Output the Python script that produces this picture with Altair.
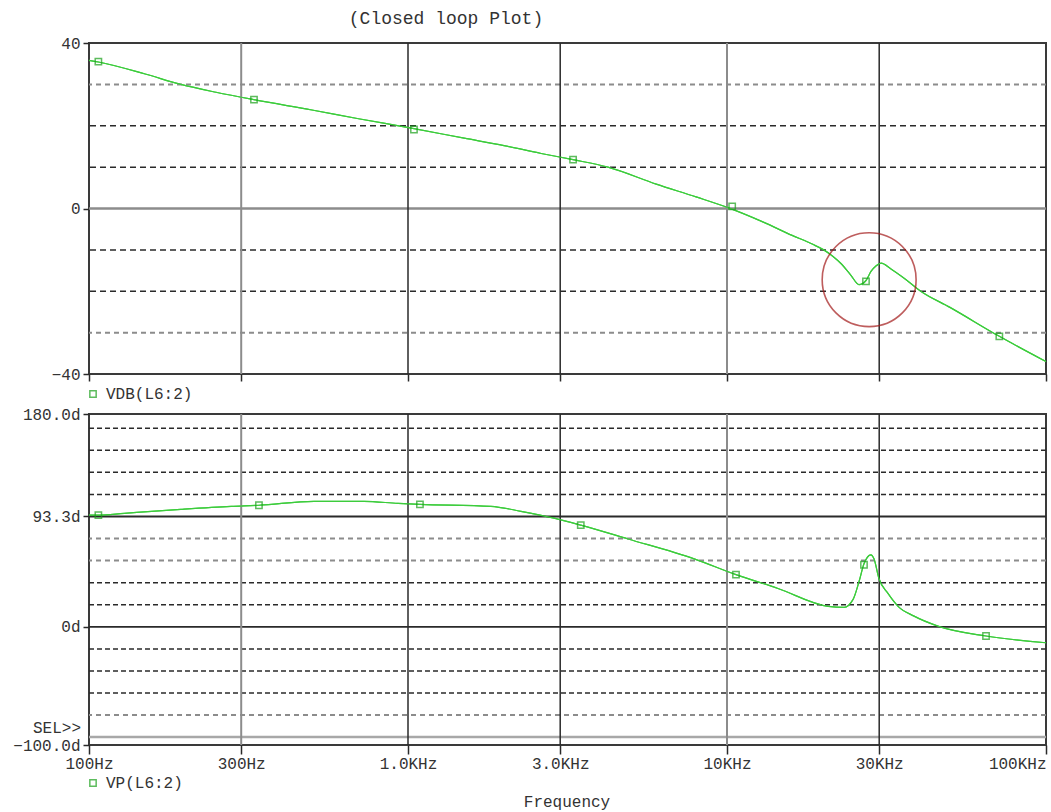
import altair as alt
import pandas as pd

# ---------------- data ----------------
title_text = "(Closed loop Plot)"

db_freq = [100, 107, 150, 194, 250, 329, 500, 700, 1044, 1500, 2000, 2615, 3292,
           4235, 6000, 8000, 10070, 13000, 16000, 18500, 20100, 21500, 22760, 24500,
           25930, 27270, 28270, 29300, 30400, 32660, 36000, 40490, 50000, 71400, 100000]
db_vals = [35.8, 35.4, 32.5, 30.0, 28.1, 26.3, 23.8, 21.7, 19.3, 17.0, 15.2, 13.3,
           11.8, 10.0, 5.9, 2.8, 0.2, -3.3, -6.5, -8.6, -10.0, -11.6, -13.3, -16.2,
           -18.4, -17.4, -15.2, -13.9, -13.2, -14.6, -16.9, -20.0, -23.9, -30.9, -37.0]
db_marker_freq = [107, 329, 1044, 3292, 10380, 27270, 71400]
db_marker_vals = [35.5, 26.3, 19.1, 11.8, 0.5, -17.6, -30.9]

ph_freq = [100, 107, 129, 194, 279, 341, 507, 728, 931, 1090, 1820, 2260, 2870,
           3480, 4896, 7890, 10670, 14450, 20760, 23290, 24850, 25940, 26880,
           28260, 28890, 29940, 31960, 34380, 38590, 45820, 64860, 100000]
ph_vals = [94.4, 94.4, 96.0, 99.4, 101.9, 102.8, 106.1, 106.1, 104.4, 103.6,
           101.9, 97.7, 91.9, 86.0, 74.3, 57.5, 44.1, 32.4, 17.3, 16.5, 23.2,
           38.3, 53.3, 60.9, 57.5, 40.8, 28.2, 17.3, 9.0, 0.6, -7.8, -13.5]
ph_marker_freq = [107, 341, 1090, 3480, 10670, 26880, 64860]
ph_marker_vals = [94.4, 102.8, 103.6, 86.0, 44.1, 52.5, -7.8]

x_tick_values = [100, 300, 1000, 3000, 10000, 30000, 100000]
x_tick_labels = ["100Hz", "300Hz", "1.0KHz", "3.0KHz", "10KHz", "30KHz", "100KHz"]
v_grid_gray = [300, 10000]
v_grid_dark = [1000, 3000, 30000]

db_tick_values = [40, 0, -40]
db_grid_dark = [20, 10, -10, -20]
db_grid_gray = [30, -30]
db_grid_solid = [0]

ph_tick_values = [180, 93.3, 0, -100]
ph_grid_dark = [168.0, 149.3, 130.7, 112.0, 37.3, 18.7, -18.7, -37.3, -56.0]
ph_grid_gray = [74.7, 56.0, -74.7]
ph_grid_solid_dark = [93.3, 0]
ph_grid_solid_gray = [-93.3]

circle_freq = [27900]
circle_db = [-17.2]

legend_db = ["VDB(L6:2)"]
legend_ph = ["VP(L6:2)"]
x_title = ["Frequency"]
sel_text = ["SEL>>"]

# ---------------- styling ----------------
FONT = "Liberation Mono"
FS = 16
W, H = 957, 331
LINE_C = "#3ccc3c"
MARK_C = "#1aa01a"
DARK = "#2a2a2a"
GRAY = "#8c8c8c"

xscale = alt.Scale(type="log", domain=[100, 100000], nice=False)
db_scale = alt.Scale(domain=[-40, 40], nice=False, zero=False)
ph_scale = alt.Scale(domain=[-100, 180], nice=False, zero=False)

label_expr = " : ".join(
    f"datum.value == {v} ? '{l}'" for v, l in zip(x_tick_values, x_tick_labels)
) + " : ''"

top_axis_x = alt.Axis(values=x_tick_values, labels=False, ticks=True, tickSize=7,
                      tickColor=DARK, tickWidth=1.5, domain=False, grid=False,
                      title=None)
top_axis_y = alt.Axis(values=db_tick_values, labelFont=FONT, labelFontSize=FS,
                      labelColor="#333", tickSize=6, tickColor=DARK, tickWidth=1.5,
                      domain=False, grid=False, title=None, labelPadding=3)
bot_axis_x = alt.Axis(values=x_tick_values, labelExpr=label_expr, labelFont=FONT,
                      labelFontSize=FS, labelColor="#333", tickSize=9,
                      tickColor=DARK, tickWidth=1.5, domain=False, grid=False,
                      title=None, labelPadding=1, labelFlush=False,
                      labelAlign={"condition": {"test": "datum.value >= 100000",
                                                "value": "right"},
                                  "value": "center"})
bot_axis_y = alt.Axis(values=ph_tick_values,
                      labelExpr="datum.value == 0 ? '0d' : format(datum.value, '.1f') + 'd'",
                      labelFont=FONT, labelFontSize=FS, labelColor="#333",
                      tickSize=6, tickColor=DARK, tickWidth=1.5, domain=False,
                      grid=False, title=None, labelPadding=3)


def df(col, vals):
    return pd.DataFrame({col: vals})


def vrules(vals, color, width, xaxis):
    return alt.Chart(df("f", vals)).mark_rule(color=color, strokeWidth=width).encode(
        x=alt.X("f:Q", scale=xscale, axis=xaxis))


def hrules(vals, scale, color, width, yaxis, dash=None):
    kw = dict(color=color, strokeWidth=width)
    if dash:
        kw["strokeDash"] = dash
    return alt.Chart(df("v", vals)).mark_rule(**kw).encode(
        y=alt.Y("v:Q", scale=scale, axis=yaxis))


def text_layer(vals, x, y, align="left", size=FS):
    return alt.Chart(df("t", vals)).mark_text(
        font=FONT, fontSize=size, color="#333", align=align, baseline="middle",
        clip=False).encode(x=alt.value(x), y=alt.value(y), text="t:N")


def legend_square(y):
    return alt.Chart(df("t", ["s"])).mark_point(
        shape="square", filled=False, color=MARK_C, size=40, strokeWidth=1.5
    ).encode(x=alt.value(4), y=alt.value(y))


# ---------------- top panel (VDB) ----------------
db_df = pd.DataFrame({"f": db_freq, "v": db_vals})
db_line = alt.Chart(db_df).mark_line(color=LINE_C, strokeWidth=1.2,
                                     interpolate="monotone").encode(
    x=alt.X("f:Q", scale=xscale, axis=top_axis_x),
    y=alt.Y("v:Q", scale=db_scale, axis=top_axis_y))
db_marks = alt.Chart(pd.DataFrame({"f": db_marker_freq, "v": db_marker_vals})).mark_point(
    shape="square", filled=False, color=MARK_C, size=40, strokeWidth=1.5).encode(
    x=alt.X("f:Q", scale=xscale, axis=top_axis_x),
    y=alt.Y("v:Q", scale=db_scale, axis=top_axis_y))
circle = alt.Chart(pd.DataFrame({"f": circle_freq, "v": circle_db})).mark_point(
    shape="circle", filled=False, color="#a31919", size=8820, strokeWidth=1.6).encode(
    x=alt.X("f:Q", scale=xscale, axis=top_axis_x),
    y=alt.Y("v:Q", scale=db_scale, axis=top_axis_y))
anchor = alt.Chart(df("t", ["a"])).mark_rule(opacity=0, strokeWidth=0.1).encode(
    x=alt.value(-88), x2=alt.value(-87), y=alt.value(-42), y2=alt.value(-41))

top = alt.layer(
    db_line,
    hrules(db_grid_gray, db_scale, GRAY, 2, top_axis_y, [5, 4]),
    hrules(db_grid_dark, db_scale, DARK, 1.5, top_axis_y, [6, 4]),
    hrules(db_grid_solid, db_scale, GRAY, 2.5, top_axis_y),
    vrules(v_grid_gray, GRAY, 2, top_axis_x),
    vrules(v_grid_dark, DARK, 1.5, top_axis_x),
    db_line,
    db_marks,
    circle,
    anchor,
    text_layer([title_text], 357, -24, align="center", size=18),
    legend_square(351),
    text_layer(legend_db, 17, 351),
).properties(width=W, height=H)

# ---------------- bottom panel (VP) ----------------
ph_df = pd.DataFrame({"f": ph_freq, "v": ph_vals})
ph_line = alt.Chart(ph_df).mark_line(color=LINE_C, strokeWidth=1.2,
                                     interpolate="monotone").encode(
    x=alt.X("f:Q", scale=xscale, axis=bot_axis_x),
    y=alt.Y("v:Q", scale=ph_scale, axis=bot_axis_y))
ph_marks = alt.Chart(pd.DataFrame({"f": ph_marker_freq, "v": ph_marker_vals})).mark_point(
    shape="square", filled=False, color=MARK_C, size=40, strokeWidth=1.5).encode(
    x=alt.X("f:Q", scale=xscale, axis=bot_axis_x),
    y=alt.Y("v:Q", scale=ph_scale, axis=bot_axis_y))

bottom = alt.layer(
    ph_line,
    hrules(ph_grid_gray, ph_scale, GRAY, 2, bot_axis_y, [5, 4]),
    hrules(ph_grid_dark, ph_scale, DARK, 1.5, bot_axis_y, [5, 3]),
    hrules(ph_grid_solid_dark, ph_scale, DARK, 1.8, bot_axis_y),
    hrules(ph_grid_solid_gray, ph_scale, "#a8a8a8", 2.5, bot_axis_y),
    vrules(v_grid_gray, GRAY, 2, bot_axis_x),
    vrules(v_grid_dark, DARK, 1.5, bot_axis_x),
    ph_line,
    ph_marks,
    text_layer(sel_text, -8, 314, align="right"),
    legend_square(369),
    text_layer(legend_ph, 17, 369),
    text_layer(x_title, 478, 388, align="center"),
).properties(width=W, height=H)

chart = alt.vconcat(top, bottom, spacing=40, bounds="flush").properties(
    padding={"left": 0, "top": 0, "right": 0, "bottom": 0},
    background="white",
).configure_view(stroke="#3a3a3a", strokeWidth=2)

chart.save("out.html", embed_options={"renderer": "svg", "actions": False})
